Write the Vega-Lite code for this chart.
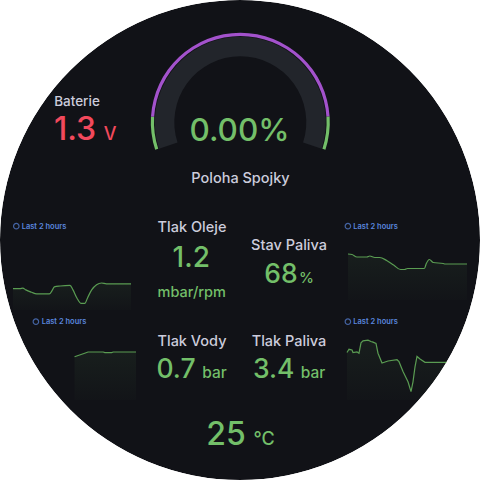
{
  "$schema": "https://vega.github.io/schema/vega-lite/v6.json",
  "width": 480,
  "height": 480,
  "padding": 0,
  "autosize": {"type": "none"},
  "background": "#ffffff",
  "config": {"view": {"stroke": null}, "text": {"font": "Inter", "fontWeight": 500}},
  "datasets": {
    "stats": [
      {"panel": "Baterie", "value": 1.3, "unit": "V"},
      {"panel": "Poloha Spojky", "value": 0, "unit": "%"},
      {"panel": "Tlak Oleje", "value": 1.2, "unit": "mbar/rpm"},
      {"panel": "Stav Paliva", "value": 68, "unit": "%"},
      {"panel": "Tlak Vody", "value": 0.7, "unit": "bar"},
      {"panel": "Tlak Paliva", "value": 3.4, "unit": "bar"},
      {"panel": "Teplota", "value": 25, "unit": "°C"}
    ],
    "gauge": [{"panel": "Poloha Spojky", "min": 0, "max": 100, "value": 0}],
    "thresholds": [
      {"level": "base", "from": 0, "to": 10},
      {"level": "mid", "from": 10, "to": 90},
      {"level": "top", "from": 90, "to": 100}
    ],
    "trend1": [
      {"t": 0, "v": 71}, {"t": 7, "v": 71}, {"t": 10, "v": 73}, {"t": 13, "v": 67}, {"t": 19, "v": 59},
      {"t": 24, "v": 54}, {"t": 37, "v": 54}, {"t": 40, "v": 66}, {"t": 42, "v": 77}, {"t": 48, "v": 80},
      {"t": 58, "v": 82}, {"t": 61, "v": 67}, {"t": 65, "v": 40}, {"t": 69, "v": 22}, {"t": 73, "v": 22},
      {"t": 76, "v": 42}, {"t": 80, "v": 67}, {"t": 85, "v": 84}, {"t": 90, "v": 90}, {"t": 95, "v": 87},
      {"t": 120, "v": 87}
    ],
    "trend2": [
      {"t": 0, "v": 92}, {"t": 4, "v": 91}, {"t": 9, "v": 86}, {"t": 19, "v": 86}, {"t": 22, "v": 88},
      {"t": 27, "v": 85}, {"t": 32, "v": 85}, {"t": 39, "v": 79}, {"t": 46, "v": 70}, {"t": 53, "v": 61},
      {"t": 57, "v": 61}, {"t": 60, "v": 63}, {"t": 77, "v": 63}, {"t": 79, "v": 73}, {"t": 82, "v": 81},
      {"t": 86, "v": 75}, {"t": 96, "v": 73}, {"t": 98, "v": 72}, {"t": 120, "v": 72}
    ],
    "trend3": [
      {"t": 47, "v": 72}, {"t": 53, "v": 75}, {"t": 59, "v": 78}, {"t": 63, "v": 80}, {"t": 81, "v": 80},
      {"t": 83, "v": 79}, {"t": 91, "v": 79}, {"t": 93, "v": 80}, {"t": 120, "v": 80}
    ],
    "trend4": [
      {"t": 0, "v": 73}, {"t": 2, "v": 78}, {"t": 5, "v": 77}, {"t": 6, "v": 73}, {"t": 10, "v": 74},
      {"t": 12, "v": 72}, {"t": 14, "v": 88}, {"t": 16, "v": 91}, {"t": 21, "v": 92}, {"t": 24, "v": 90},
      {"t": 26, "v": 89}, {"t": 29, "v": 87}, {"t": 31, "v": 72}, {"t": 35, "v": 57}, {"t": 41, "v": 60},
      {"t": 50, "v": 62}, {"t": 52, "v": 59}, {"t": 56, "v": 44}, {"t": 61, "v": 28}, {"t": 64, "v": 13},
      {"t": 66, "v": 28}, {"t": 68, "v": 51}, {"t": 70, "v": 67}, {"t": 73, "v": 63}, {"t": 78, "v": 58},
      {"t": 120, "v": 58}
    ],
    "ranges": [{"range": "Last 2 hours"}]
  },
  "resolve": {"scale": {"x": "independent", "y": "independent", "theta": "independent", "color": "independent"}},
  "layer": [
    {
      "data": {"values": [{"panel": "dashboard"}]},
      "mark": {"type": "arc", "theta": 0, "theta2": 6.2832, "radius": 240, "radius2": 0, "fill": "#111217"},
      "encoding": {}
    },
    {
      "data": {"name": "gauge"},
      "mark": {"type": "arc", "radius": 85.5, "radius2": 66, "fill": "#22252b"},
      "encoding": {
        "theta": {"field": "min", "type": "quantitative", "stack": null, "scale": {"domain": [0, 100], "range": [-1.885, 1.885]}},
        "theta2": {"field": "max"},
        "x": {"datum": 240.3, "type": "quantitative", "scale": {"domain": [0, 480]}, "axis": null},
        "y": {"datum": 122.2, "type": "quantitative", "scale": {"domain": [480, 0]}, "axis": null}
      }
    },
    {
      "data": {"name": "thresholds"},
      "mark": {"type": "arc", "radius": 89.5, "radius2": 86.3},
      "encoding": {
        "theta": {"field": "from", "type": "quantitative", "stack": null, "scale": {"domain": [0, 100], "range": [-1.885, 1.885]}},
        "theta2": {"field": "to"},
        "color": {"field": "level", "type": "nominal", "scale": {"domain": ["base", "mid", "top"], "range": ["#73BF69", "#A352CC", "#73BF69"]}, "legend": null},
        "x": {"datum": 240.3, "type": "quantitative", "scale": {"domain": [0, 480]}, "axis": null},
        "y": {"datum": 122.2, "type": "quantitative", "scale": {"domain": [480, 0]}, "axis": null}
      }
    },
    {
      "data": {"name": "trend1"},
      "mark": {"type": "area", "interpolate": "monotone", "line": {"color": "#5a9c52", "strokeWidth": 1.2},
        "color": {"gradient": "linear", "x1": 0, "y1": 0, "x2": 0, "y2": 1, "stops": [{"offset": 0, "color": "rgba(115,191,105,0.10)"}, {"offset": 1, "color": "rgba(115,191,105,0.02)"}]}},
      "encoding": {
        "x": {"field": "t", "type": "quantitative", "scale": {"domain": [0, 120], "range": [13, 131]}, "axis": null},
        "y": {"field": "v", "type": "quantitative", "scale": {"domain": [0, 100], "range": [310, 280]}, "axis": null}
      }
    },
    {
      "data": {"name": "trend2"},
      "mark": {"type": "area", "interpolate": "monotone", "line": {"color": "#5a9c52", "strokeWidth": 1.2},
        "color": {"gradient": "linear", "x1": 0, "y1": 0, "x2": 0, "y2": 1, "stops": [{"offset": 0, "color": "rgba(115,191,105,0.10)"}, {"offset": 1, "color": "rgba(115,191,105,0.02)"}]}},
      "encoding": {
        "x": {"field": "t", "type": "quantitative", "scale": {"domain": [0, 120], "range": [348, 467]}, "axis": null},
        "y": {"field": "v", "type": "quantitative", "scale": {"domain": [0, 100], "range": [300, 250]}, "axis": null}
      }
    },
    {
      "data": {"name": "trend3"},
      "mark": {"type": "area", "interpolate": "linear", "line": {"color": "#5a9c52", "strokeWidth": 1.2},
        "color": {"gradient": "linear", "x1": 0, "y1": 0, "x2": 0, "y2": 1, "stops": [{"offset": 0, "color": "rgba(115,191,105,0.10)"}, {"offset": 1, "color": "rgba(115,191,105,0.02)"}]}},
      "encoding": {
        "x": {"field": "t", "type": "quantitative", "scale": {"domain": [0, 120], "range": [35, 136]}, "axis": null},
        "y": {"field": "v", "type": "quantitative", "scale": {"domain": [0, 100], "range": [400, 340]}, "axis": null}
      }
    },
    {
      "data": {"name": "trend4"},
      "mark": {"type": "area", "interpolate": "linear", "line": {"color": "#5a9c52", "strokeWidth": 1.2},
        "color": {"gradient": "linear", "x1": 0, "y1": 0, "x2": 0, "y2": 1, "stops": [{"offset": 0, "color": "rgba(115,191,105,0.10)"}, {"offset": 1, "color": "rgba(115,191,105,0.02)"}]}},
      "encoding": {
        "x": {"field": "t", "type": "quantitative", "scale": {"domain": [0, 120], "range": [347, 467]}, "axis": null},
        "y": {"field": "v", "type": "quantitative", "scale": {"domain": [0, 100], "range": [400, 335]}, "axis": null}
      }
    },
    {
      "data": {"name": "stats"}, "transform": [{"filter": "datum.panel === 'Baterie'"}],
      "mark": {"type": "text", "fontSize": 13.5, "color": "#ccccdc", "align": "center", "baseline": "alphabetic"},
      "encoding": {"text": {"field": "panel"},
        "x": {"datum": 77, "type": "quantitative", "scale": {"domain": [0, 480]}, "axis": null},
        "y": {"datum": 106, "type": "quantitative", "scale": {"domain": [480, 0]}, "axis": null}}
    },
    {
      "data": {"name": "stats"}, "transform": [{"filter": "datum.panel === 'Baterie'"}],
      "mark": {"type": "text", "fontSize": 32, "color": "#F2495C", "align": "center", "baseline": "alphabetic"},
      "encoding": {"text": {"field": "value", "format": ".1f"},
        "x": {"datum": 75, "type": "quantitative", "scale": {"domain": [0, 480]}, "axis": null},
        "y": {"datum": 140, "type": "quantitative", "scale": {"domain": [480, 0]}, "axis": null}}
    },
    {
      "data": {"name": "stats"}, "transform": [{"filter": "datum.panel === 'Baterie'"}],
      "mark": {"type": "text", "fontSize": 18, "color": "#F2495C", "align": "center", "baseline": "alphabetic"},
      "encoding": {"text": {"field": "unit"},
        "x": {"datum": 110, "type": "quantitative", "scale": {"domain": [0, 480]}, "axis": null},
        "y": {"datum": 140, "type": "quantitative", "scale": {"domain": [480, 0]}, "axis": null}}
    },
    {
      "data": {"name": "stats"}, "transform": [{"filter": "datum.panel === 'Poloha Spojky'"}],
      "mark": {"type": "text", "fontSize": 31.5, "color": "#73BF69", "align": "center", "baseline": "alphabetic"},
      "encoding": {"text": {"field": "value", "format": ".2%"},
        "x": {"datum": 239.5, "type": "quantitative", "scale": {"domain": [0, 480]}, "axis": null},
        "y": {"datum": 140.7, "type": "quantitative", "scale": {"domain": [480, 0]}, "axis": null}}
    },
    {
      "data": {"name": "stats"}, "transform": [{"filter": "datum.panel === 'Poloha Spojky'"}],
      "mark": {"type": "text", "fontSize": 14.5, "color": "#ccccdc", "align": "center", "baseline": "alphabetic"},
      "encoding": {"text": {"field": "panel"},
        "x": {"datum": 240.5, "type": "quantitative", "scale": {"domain": [0, 480]}, "axis": null},
        "y": {"datum": 183.3, "type": "quantitative", "scale": {"domain": [480, 0]}, "axis": null}}
    },
    {
      "data": {"name": "stats"}, "transform": [{"filter": "datum.panel === 'Tlak Oleje'"}],
      "mark": {"type": "text", "fontSize": 14.5, "color": "#ccccdc", "align": "center", "baseline": "alphabetic"},
      "encoding": {"text": {"field": "panel"},
        "x": {"datum": 192, "type": "quantitative", "scale": {"domain": [0, 480]}, "axis": null},
        "y": {"datum": 232.3, "type": "quantitative", "scale": {"domain": [480, 0]}, "axis": null}}
    },
    {
      "data": {"name": "stats"}, "transform": [{"filter": "datum.panel === 'Tlak Oleje'"}],
      "mark": {"type": "text", "fontSize": 28, "color": "#73BF69", "align": "center", "baseline": "alphabetic"},
      "encoding": {"text": {"field": "value", "format": ".1f"},
        "x": {"datum": 191.3, "type": "quantitative", "scale": {"domain": [0, 480]}, "axis": null},
        "y": {"datum": 267.3, "type": "quantitative", "scale": {"domain": [480, 0]}, "axis": null}}
    },
    {
      "data": {"name": "stats"}, "transform": [{"filter": "datum.panel === 'Tlak Oleje'"}],
      "mark": {"type": "text", "fontSize": 14.5, "color": "#73BF69", "align": "center", "baseline": "alphabetic"},
      "encoding": {"text": {"field": "unit"},
        "x": {"datum": 191.7, "type": "quantitative", "scale": {"domain": [0, 480]}, "axis": null},
        "y": {"datum": 297.3, "type": "quantitative", "scale": {"domain": [480, 0]}, "axis": null}}
    },
    {
      "data": {"name": "stats"}, "transform": [{"filter": "datum.panel === 'Stav Paliva'"}],
      "mark": {"type": "text", "fontSize": 14.5, "color": "#ccccdc", "align": "center", "baseline": "alphabetic"},
      "encoding": {"text": {"field": "panel"},
        "x": {"datum": 289, "type": "quantitative", "scale": {"domain": [0, 480]}, "axis": null},
        "y": {"datum": 250, "type": "quantitative", "scale": {"domain": [480, 0]}, "axis": null}}
    },
    {
      "data": {"name": "stats"}, "transform": [{"filter": "datum.panel === 'Stav Paliva'"}],
      "mark": {"type": "text", "fontSize": 26.5, "color": "#73BF69", "align": "center", "baseline": "alphabetic"},
      "encoding": {"text": {"field": "value", "format": "d"},
        "x": {"datum": 281, "type": "quantitative", "scale": {"domain": [0, 480]}, "axis": null},
        "y": {"datum": 282.7, "type": "quantitative", "scale": {"domain": [480, 0]}, "axis": null}}
    },
    {
      "data": {"name": "stats"}, "transform": [{"filter": "datum.panel === 'Stav Paliva'"}],
      "mark": {"type": "text", "fontSize": 15, "color": "#73BF69", "align": "center", "baseline": "alphabetic"},
      "encoding": {"text": {"field": "unit"},
        "x": {"datum": 306.5, "type": "quantitative", "scale": {"domain": [0, 480]}, "axis": null},
        "y": {"datum": 282.7, "type": "quantitative", "scale": {"domain": [480, 0]}, "axis": null}}
    },
    {
      "data": {"name": "stats"}, "transform": [{"filter": "datum.panel === 'Tlak Vody'"}],
      "mark": {"type": "text", "fontSize": 14.5, "color": "#ccccdc", "align": "center", "baseline": "alphabetic"},
      "encoding": {"text": {"field": "panel"},
        "x": {"datum": 192, "type": "quantitative", "scale": {"domain": [0, 480]}, "axis": null},
        "y": {"datum": 345.7, "type": "quantitative", "scale": {"domain": [480, 0]}, "axis": null}}
    },
    {
      "data": {"name": "stats"}, "transform": [{"filter": "datum.panel === 'Tlak Vody'"}],
      "mark": {"type": "text", "fontSize": 26.5, "color": "#73BF69", "align": "center", "baseline": "alphabetic"},
      "encoding": {"text": {"field": "value", "format": ".1f"},
        "x": {"datum": 176, "type": "quantitative", "scale": {"domain": [0, 480]}, "axis": null},
        "y": {"datum": 378.3, "type": "quantitative", "scale": {"domain": [480, 0]}, "axis": null}}
    },
    {
      "data": {"name": "stats"}, "transform": [{"filter": "datum.panel === 'Tlak Vody'"}],
      "mark": {"type": "text", "fontSize": 15.5, "color": "#73BF69", "align": "center", "baseline": "alphabetic"},
      "encoding": {"text": {"field": "unit"},
        "x": {"datum": 214.5, "type": "quantitative", "scale": {"domain": [0, 480]}, "axis": null},
        "y": {"datum": 378.3, "type": "quantitative", "scale": {"domain": [480, 0]}, "axis": null}}
    },
    {
      "data": {"name": "stats"}, "transform": [{"filter": "datum.panel === 'Tlak Paliva'"}],
      "mark": {"type": "text", "fontSize": 14.5, "color": "#ccccdc", "align": "center", "baseline": "alphabetic"},
      "encoding": {"text": {"field": "panel"},
        "x": {"datum": 289, "type": "quantitative", "scale": {"domain": [0, 480]}, "axis": null},
        "y": {"datum": 345.7, "type": "quantitative", "scale": {"domain": [480, 0]}, "axis": null}}
    },
    {
      "data": {"name": "stats"}, "transform": [{"filter": "datum.panel === 'Tlak Paliva'"}],
      "mark": {"type": "text", "fontSize": 26.5, "color": "#73BF69", "align": "center", "baseline": "alphabetic"},
      "encoding": {"text": {"field": "value", "format": ".1f"},
        "x": {"datum": 273.7, "type": "quantitative", "scale": {"domain": [0, 480]}, "axis": null},
        "y": {"datum": 378.3, "type": "quantitative", "scale": {"domain": [480, 0]}, "axis": null}}
    },
    {
      "data": {"name": "stats"}, "transform": [{"filter": "datum.panel === 'Tlak Paliva'"}],
      "mark": {"type": "text", "fontSize": 15.5, "color": "#73BF69", "align": "center", "baseline": "alphabetic"},
      "encoding": {"text": {"field": "unit"},
        "x": {"datum": 313, "type": "quantitative", "scale": {"domain": [0, 480]}, "axis": null},
        "y": {"datum": 378.3, "type": "quantitative", "scale": {"domain": [480, 0]}, "axis": null}}
    },
    {
      "data": {"name": "stats"}, "transform": [{"filter": "datum.panel === 'Teplota'"}],
      "mark": {"type": "text", "fontSize": 32, "color": "#73BF69", "align": "center", "baseline": "alphabetic"},
      "encoding": {"text": {"field": "value", "format": "d"},
        "x": {"datum": 226, "type": "quantitative", "scale": {"domain": [0, 480]}, "axis": null},
        "y": {"datum": 445, "type": "quantitative", "scale": {"domain": [480, 0]}, "axis": null}}
    },
    {
      "data": {"name": "stats"}, "transform": [{"filter": "datum.panel === 'Teplota'"}],
      "mark": {"type": "text", "fontSize": 18, "color": "#73BF69", "align": "center", "baseline": "alphabetic"},
      "encoding": {"text": {"field": "unit"},
        "x": {"datum": 264, "type": "quantitative", "scale": {"domain": [0, 480]}, "axis": null},
        "y": {"datum": 445, "type": "quantitative", "scale": {"domain": [480, 0]}, "axis": null}}
    },
    {
      "data": {"name": "ranges"},
      "mark": {"type": "point", "shape": "circle", "filled": false, "size": 30, "strokeWidth": 1.2, "color": "#5a86de"},
      "encoding": {
        "x": {"datum": 16.3, "type": "quantitative", "scale": {"domain": [0, 480]}, "axis": null},
        "y": {"datum": 226.2, "type": "quantitative", "scale": {"domain": [480, 0]}, "axis": null}}
    },
    {
      "data": {"name": "ranges"},
      "mark": {"type": "text", "fontSize": 7.5, "fontWeight": 600, "color": "#5a86de", "align": "left", "baseline": "alphabetic"},
      "encoding": {"text": {"field": "range"},
        "x": {"datum": 21.7, "type": "quantitative", "scale": {"domain": [0, 480]}, "axis": null},
        "y": {"datum": 228.7, "type": "quantitative", "scale": {"domain": [480, 0]}, "axis": null}}
    },
    {
      "data": {"name": "ranges"},
      "mark": {"type": "point", "shape": "circle", "filled": false, "size": 30, "strokeWidth": 1.2, "color": "#5a86de"},
      "encoding": {
        "x": {"datum": 347.9, "type": "quantitative", "scale": {"domain": [0, 480]}, "axis": null},
        "y": {"datum": 226.2, "type": "quantitative", "scale": {"domain": [480, 0]}, "axis": null}}
    },
    {
      "data": {"name": "ranges"},
      "mark": {"type": "text", "fontSize": 7.5, "fontWeight": 600, "color": "#5a86de", "align": "left", "baseline": "alphabetic"},
      "encoding": {"text": {"field": "range"},
        "x": {"datum": 353.3, "type": "quantitative", "scale": {"domain": [0, 480]}, "axis": null},
        "y": {"datum": 228.7, "type": "quantitative", "scale": {"domain": [480, 0]}, "axis": null}}
    },
    {
      "data": {"name": "ranges"},
      "mark": {"type": "point", "shape": "circle", "filled": false, "size": 30, "strokeWidth": 1.2, "color": "#5a86de"},
      "encoding": {
        "x": {"datum": 35.9, "type": "quantitative", "scale": {"domain": [0, 480]}, "axis": null},
        "y": {"datum": 321.7, "type": "quantitative", "scale": {"domain": [480, 0]}, "axis": null}}
    },
    {
      "data": {"name": "ranges"},
      "mark": {"type": "text", "fontSize": 7.5, "fontWeight": 600, "color": "#5a86de", "align": "left", "baseline": "alphabetic"},
      "encoding": {"text": {"field": "range"},
        "x": {"datum": 41.7, "type": "quantitative", "scale": {"domain": [0, 480]}, "axis": null},
        "y": {"datum": 324.3, "type": "quantitative", "scale": {"domain": [480, 0]}, "axis": null}}
    },
    {
      "data": {"name": "ranges"},
      "mark": {"type": "point", "shape": "circle", "filled": false, "size": 30, "strokeWidth": 1.2, "color": "#5a86de"},
      "encoding": {
        "x": {"datum": 347.9, "type": "quantitative", "scale": {"domain": [0, 480]}, "axis": null},
        "y": {"datum": 321.7, "type": "quantitative", "scale": {"domain": [480, 0]}, "axis": null}}
    },
    {
      "data": {"name": "ranges"},
      "mark": {"type": "text", "fontSize": 7.5, "fontWeight": 600, "color": "#5a86de", "align": "left", "baseline": "alphabetic"},
      "encoding": {"text": {"field": "range"},
        "x": {"datum": 353.3, "type": "quantitative", "scale": {"domain": [0, 480]}, "axis": null},
        "y": {"datum": 324.3, "type": "quantitative", "scale": {"domain": [480, 0]}, "axis": null}}
    },
    {
      "data": {"values": [{"panel": "frame"}]},
      "mark": {"type": "arc", "theta": 0, "theta2": 6.2832, "radius": 350, "radius2": 240, "fill": "#ffffff"},
      "encoding": {}
    }
  ]
}
